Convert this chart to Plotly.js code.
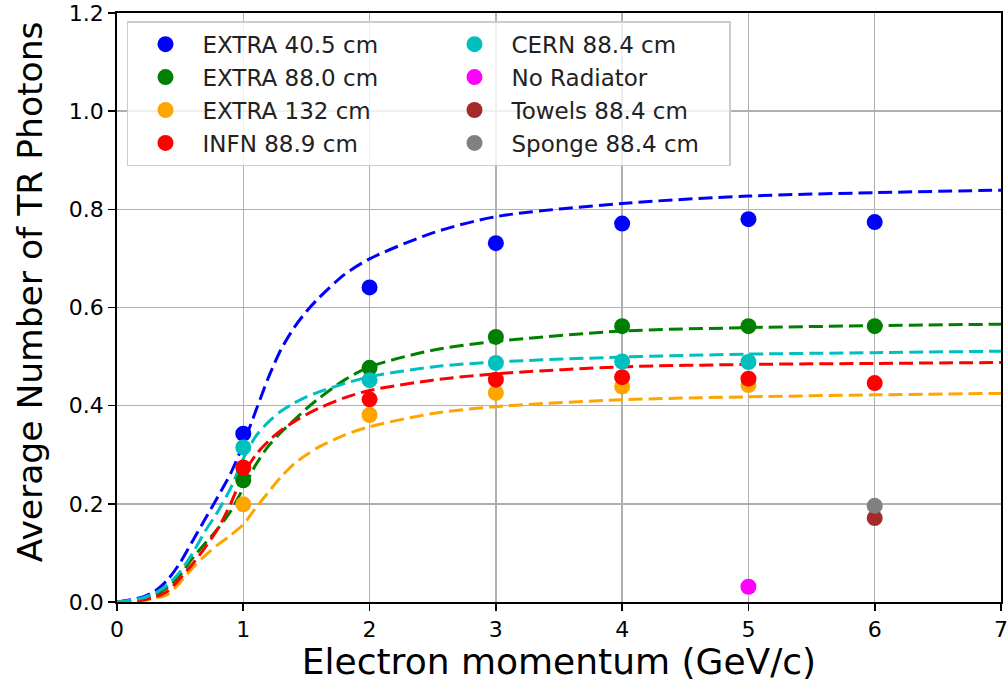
<!DOCTYPE html>
<html>
<head>
<meta charset="utf-8">
<script src="https://cdn.plot.ly/plotly-3.0.1.min.js"></script>
<style>html,body{margin:0;padding:0;background:#fff;}</style>
</head>
<body>
<div id="chart" style="width:1008px;height:682px;"></div>
<script>
// Measured points
const names = ["EXTRA 40.5 cm","EXTRA 88.0 cm","EXTRA 132 cm","INFN 88.9 cm","CERN 88.4 cm","No Radiator","Towels 88.4 cm","Sponge 88.4 cm"];
const colors = ["#0000ff","#008000","#ffa500","#ff0000","#00bfbf","#ff00ff","#a52a2a","#808080"];
const extra405_x = [1,2,3,4,5,6];
const extra405_y = [0.343,0.641,0.731,0.771,0.780,0.774];
const extra880_x = [1,2,3,4,5,6];
const extra880_y = [0.248,0.477,0.540,0.562,0.562,0.562];
const extra132_x = [1,2,3,4,5];
const extra132_y = [0.199,0.381,0.426,0.439,0.442];
const infn_x = [1,2,3,4,5,6];
const infn_y = [0.274,0.413,0.453,0.458,0.455,0.446];
const cern_x = [1,2,3,4,5];
const cern_y = [0.315,0.452,0.487,0.490,0.489];
const norad_x = [5];
const norad_y = [0.031];
const towels_x = [6];
const towels_y = [0.171];
const sponge_x = [6];
const sponge_y = [0.196];

// Model curves
const curve_x = [0,0.2,0.3,0.4,0.5,0.6,0.7,0.8,0.9,1.0,1.1,1.2,1.3,1.4,1.5,1.6,1.8,2.0,2.5,3,4,5,6,7];
const curve405_y = [0,0.010,0.022,0.045,0.080,0.125,0.170,0.215,0.262,0.322,0.390,0.458,0.515,0.558,0.592,0.620,0.667,0.699,0.752,0.785,0.812,0.827,0.834,0.839];
const curve880_y = [0,0.006,0.014,0.030,0.055,0.090,0.120,0.150,0.185,0.232,0.280,0.318,0.346,0.370,0.394,0.415,0.452,0.479,0.513,0.531,0.552,0.559,0.563,0.566];
const curve132_y = [0,0.002,0.008,0.015,0.040,0.070,0.095,0.117,0.136,0.158,0.192,0.224,0.255,0.281,0.300,0.316,0.340,0.357,0.384,0.398,0.412,0.418,0.422,0.425];
const curveinfn_y = [0,0.004,0.010,0.022,0.048,0.078,0.112,0.150,0.200,0.260,0.300,0.328,0.350,0.367,0.382,0.395,0.416,0.431,0.452,0.465,0.479,0.484,0.486,0.488];
const curvecern_y = [0,0.008,0.018,0.035,0.062,0.100,0.145,0.185,0.232,0.292,0.338,0.367,0.389,0.405,0.418,0.428,0.445,0.459,0.479,0.489,0.499,0.505,0.508,0.511];

const pointSets = [
  [extra405_x, extra405_y],[extra880_x, extra880_y],[extra132_x, extra132_y],[infn_x, infn_y],
  [cern_x, cern_y],[norad_x, norad_y],[towels_x, towels_y],[sponge_x, sponge_y]
];
const curveSets = [curve405_y, curve880_y, curve132_y, curveinfn_y, curvecern_y];
// legend order: two columns (left: first four, right: last four)
const ranks = [1,3,5,7,2,4,6,8];

const FONT = "DejaVu Sans";
const traces = [];
curveSets.forEach((cy, i) => {
  traces.push({
    x: curve_x, y: cy, type: "scatter", mode: "lines", showlegend: false, hoverinfo: "skip",
    line: {color: colors[i], width: 3, dash: "14px,6px", shape: "spline", smoothing: 0.8}
  });
});
pointSets.forEach((p, i) => {
  traces.push({
    x: p[0], y: p[1], type: "scatter", mode: "markers", name: names[i], legendrank: ranks[i],
    legendwidth: i < 4 ? 230 : 213,
    marker: {color: colors[i], size: 16}
  });
});

const layout = {
  width: 1008, height: 682,
  margin: {l: 117, r: 7, t: 13, b: 80, pad: 0},
  paper_bgcolor: "#fff", plot_bgcolor: "#fff",
  font: {family: FONT, color: "#000"},
  xaxis: {
    range: [0, 7], tick0: 0, dtick: 1, ticks: "outside", ticklen: 7, tickwidth: 1.6, tickcolor: "#000",
    showline: true, mirror: true, linecolor: "#000", linewidth: 1.8,
    showgrid: true, gridcolor: "#b0b0b0", gridwidth: 1.5, zeroline: false,
    tickfont: {family: FONT, size: 22, color: "#000"},
    title: {text: "Electron momentum (GeV/c)", font: {family: FONT, size: 36, color: "#000"}, standoff: 4}
  },
  yaxis: {
    range: [0, 1.2], tick0: 0, dtick: 0.2, tickformat: ".1f", ticks: "outside", ticklen: 7, tickwidth: 1.6, tickcolor: "#000",
    showline: true, mirror: true, linecolor: "#000", linewidth: 1.8,
    showgrid: true, gridcolor: "#b0b0b0", gridwidth: 1.5, zeroline: false,
    tickfont: {family: FONT, size: 22, color: "#000"}
  },
  annotations: [{
    text: "Average Number of TR Photons", textangle: -90, showarrow: false,
    xref: "paper", yref: "paper", x: -0.0984, y: 0.526, xanchor: "center", yanchor: "middle",
    font: {family: FONT, size: 34.5, color: "#000"}
  }],
  legend: {
    x: 0.0113, y: 0.986, xanchor: "left", yanchor: "top",
    orientation: "h", entrywidth: 230, itemwidth: 64,
    bgcolor: "rgba(255,255,255,0.8)", bordercolor: "#cccccc", borderwidth: 1.5,
    font: {family: FONT, size: 23, color: "#222"}
  },
  showlegend: true
};

Plotly.newPlot("chart", traces, layout, {staticPlot: true, displayModeBar: false});
</script>
</body>
</html>
